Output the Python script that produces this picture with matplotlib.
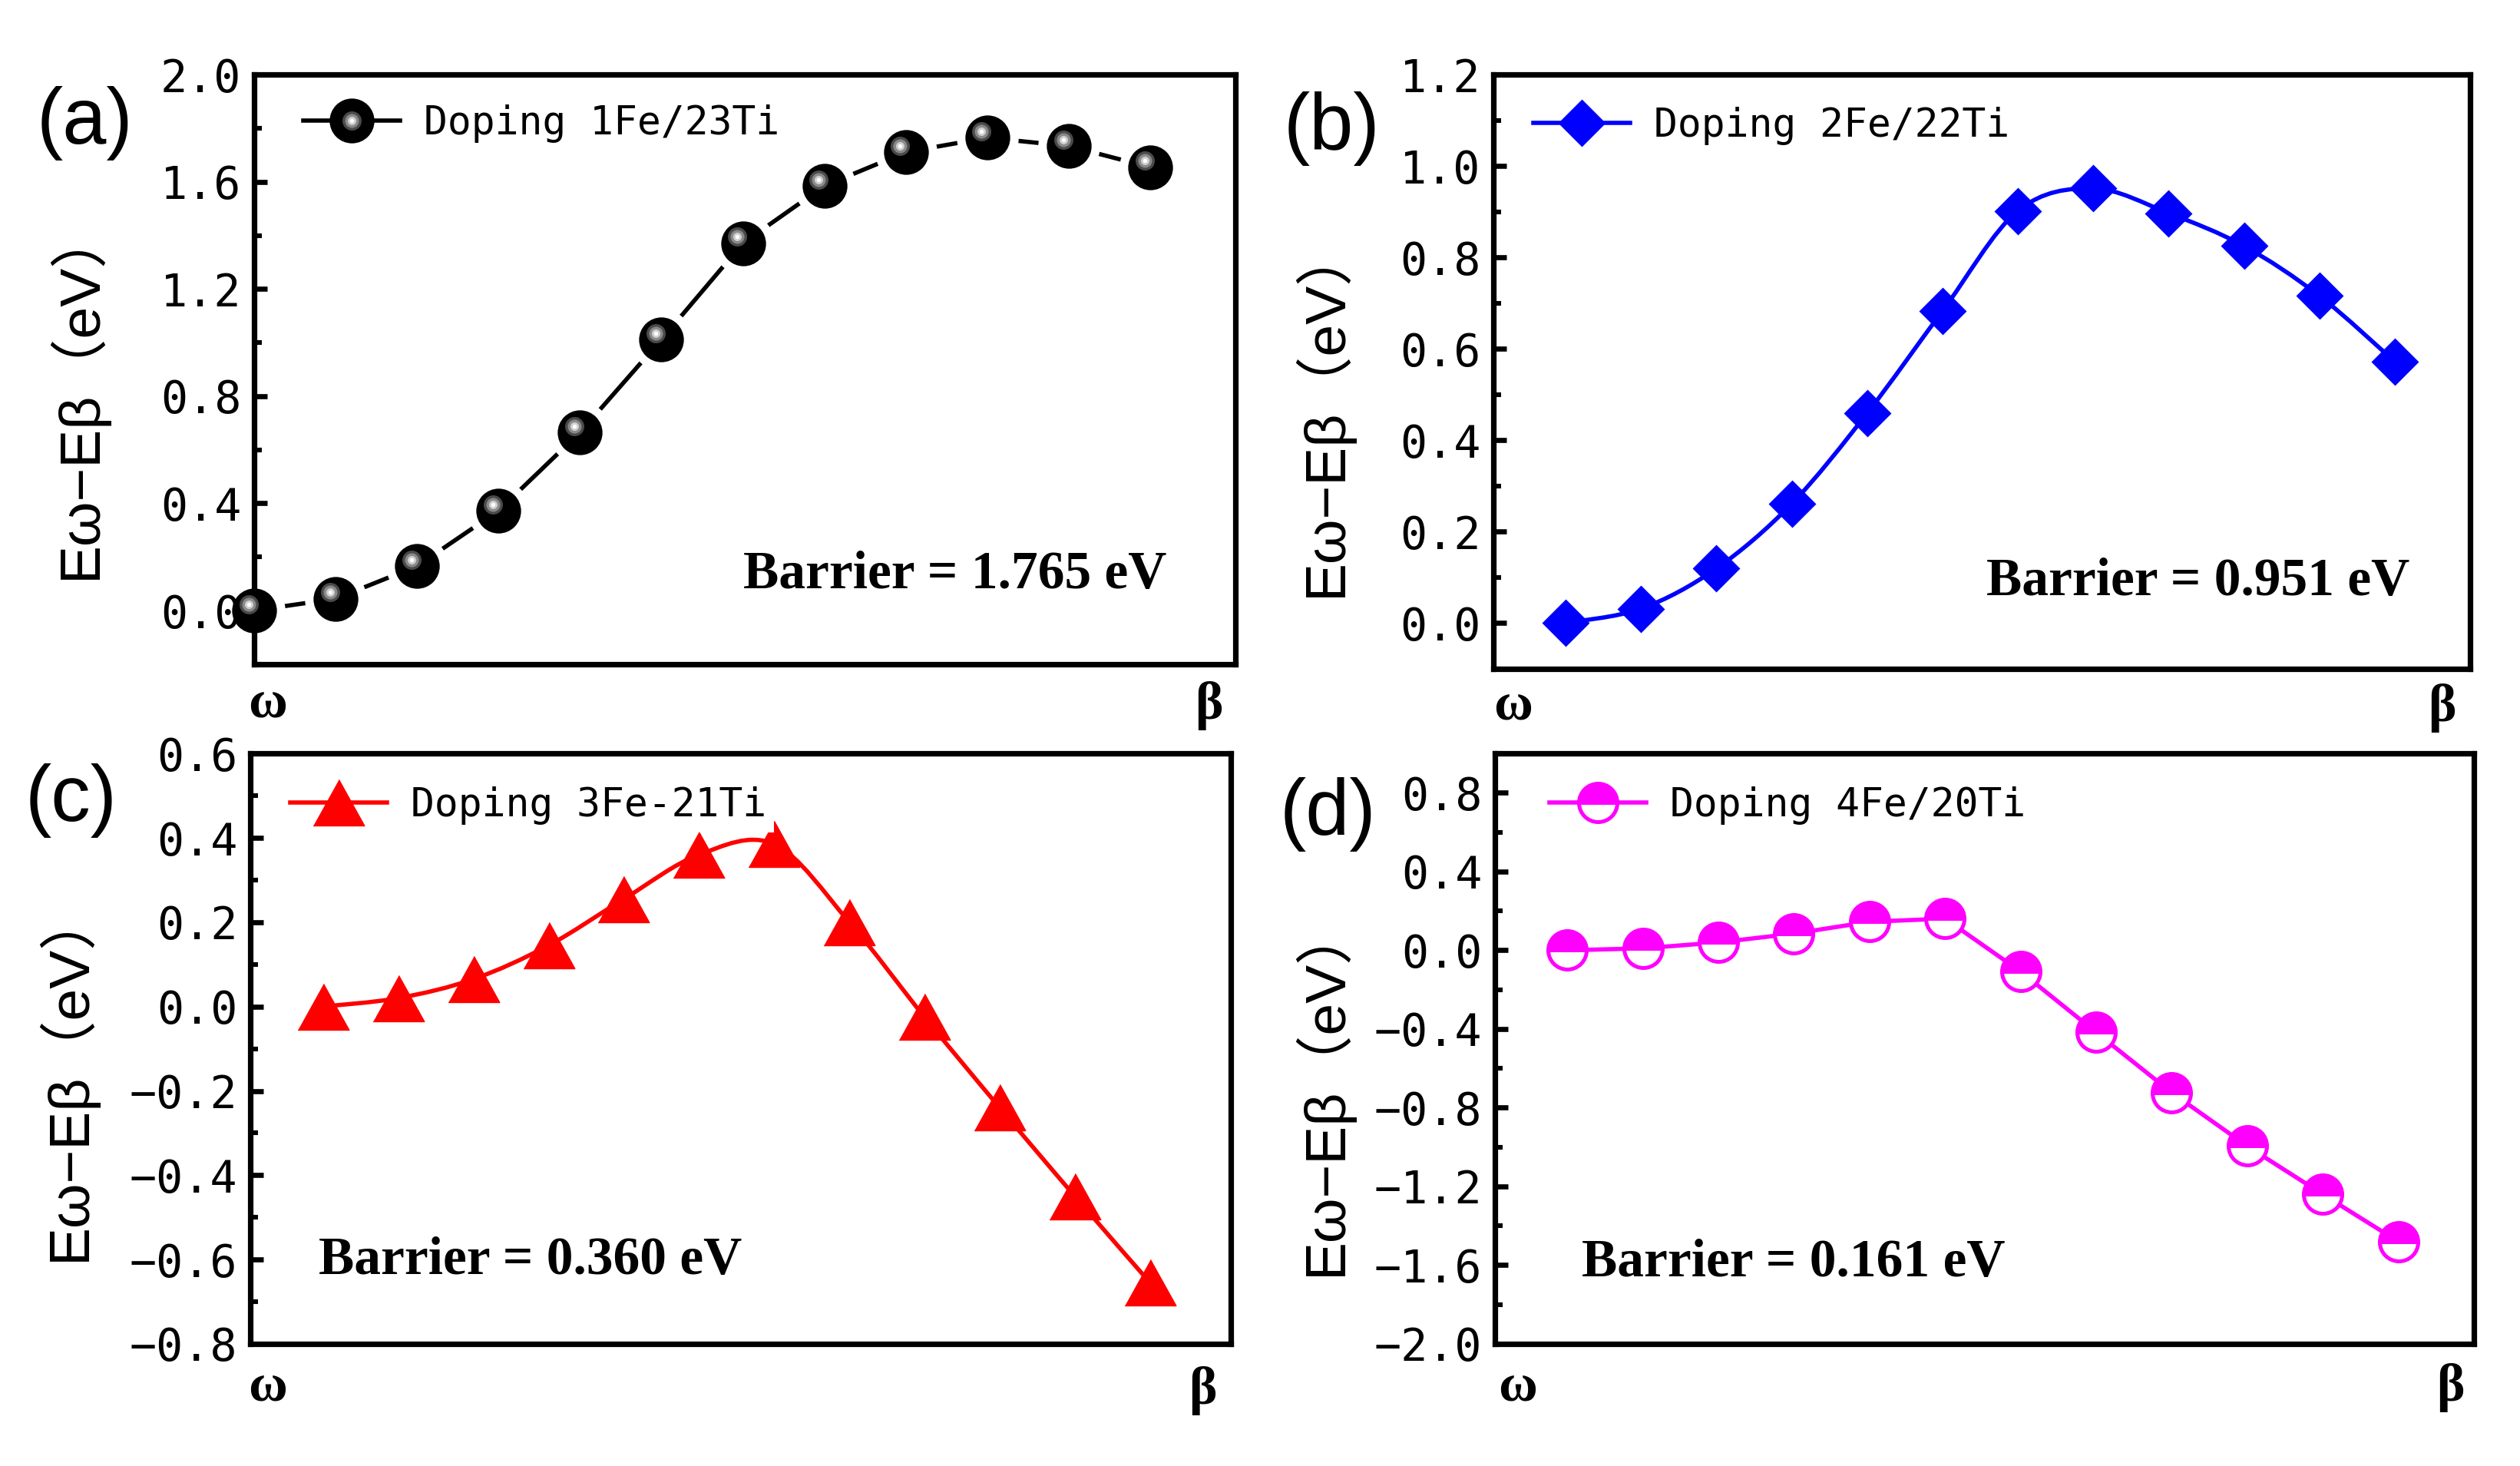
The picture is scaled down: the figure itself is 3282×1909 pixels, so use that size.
import matplotlib
matplotlib.use("Agg")
import matplotlib.pyplot as plt
import matplotlib.transforms as mtransforms
from matplotlib.lines import Line2D
from matplotlib.path import Path
from matplotlib.patches import PathPatch
from matplotlib.legend_handler import HandlerTuple
from matplotlib.ticker import MultipleLocator, FuncFormatter

# image index along the omega -> beta path
x_a = list(range(0, 12))
x_bcd = list(range(1, 13))

# E(omega) - E(beta) in eV
e_a = [0.0, 0.044, 0.166, 0.373, 0.665, 1.012, 1.371, 1.585, 1.711, 1.765, 1.734, 1.655]
e_b = [0.0, 0.031, 0.119, 0.261, 0.459, 0.683, 0.902, 0.951, 0.897, 0.825, 0.716, 0.572]
e_c = [0.0, 0.02, 0.065, 0.145, 0.255, 0.36, 0.385, 0.20, -0.025, -0.24, -0.45, -0.655]
e_d = [0.0, 0.01, 0.04, 0.085, 0.145, 0.161, -0.108, -0.417, -0.723, -0.995, -1.24, -1.48]

labels = ["Doping 1Fe/23Ti", "Doping 2Fe/22Ti", "Doping 3Fe-21Ti", "Doping 4Fe/20Ti"]
barriers = ["Barrier = 1.765 eV", "Barrier = 0.951 eV", "Barrier = 0.360 eV", "Barrier = 0.161 eV"]
tags = ["(a)", "(b)", "(c)", "(d)"]
ylabel = "Eω−Eβ（eV）"

plt.rcParams['font.family'] = ['DejaVu Sans Mono']
SANS = ['Liberation Sans', 'Noto Sans CJK SC', 'DejaVu Sans']
SERIF = ['Liberation Serif', 'DejaVu Serif']
MONO = ['DejaVu Sans Mono']


def fmt(v, pos):
    s = f"{v:.1f}"
    if s == "-0.0":
        s = "0.0"
    return s.replace("-", "\u2212")


def spline_path(xs, ys):
    # smooth connector through the points (cubic bezier segments)
    pts = list(zip(xs, ys))
    n = len(pts)
    verts = [pts[0]]
    codes = [Path.MOVETO]
    for i in range(n - 1):
        p0 = pts[max(i - 1, 0)]
        p1 = pts[i]
        p2 = pts[i + 1]
        p3 = pts[min(i + 2, n - 1)]
        c1 = (p1[0] + (p2[0] - p0[0]) / 6, p1[1] + (p2[1] - p0[1]) / 6)
        c2 = (p2[0] - (p3[0] - p1[0]) / 6, p2[1] - (p3[1] - p1[1]) / 6)
        verts += [c1, c2, p2]
        codes += [Path.CURVE4] * 3
    return Path(verts, codes)


def style_axes(ax, xlim, ylim, major, minor):
    ax.set_xlim(*xlim)
    ax.set_ylim(*ylim)
    ax.yaxis.set_major_locator(MultipleLocator(major))
    ax.yaxis.set_minor_locator(MultipleLocator(minor))
    ax.yaxis.set_major_formatter(FuncFormatter(fmt))
    ax.tick_params(axis='y', which='major', direction='in', length=6, width=2.4,
                   pad=6, labelsize=21)
    ax.tick_params(axis='y', which='minor', direction='in', length=3.5, width=2.2)
    ax.tick_params(axis='x', which='both', bottom=False, labelbottom=False)
    for sp in ax.spines.values():
        sp.set_linewidth(2.6)
        sp.set_zorder(3.5)


def decorate(ax, tag_xy, ylab_xy, bar_xy, bar_ha, omega_xy, beta_xy, text, tag):
    fig.text(tag_xy[0], tag_xy[1], tag, family=SANS, fontsize=37, ha='center', va='center')
    ax.text(ylab_xy[0], ylab_xy[1], ylabel, family=SANS, fontsize=27, rotation=90,
            ha='center', va='center', transform=ax.transAxes)
    ax.text(bar_xy[0], bar_xy[1], text, family=SERIF, fontweight='bold', fontsize=25,
            ha=bar_ha, va='center', transform=ax.transAxes)
    ax.text(omega_xy[0], omega_xy[1], "ω", family=SERIF, fontweight='bold', fontsize=25,
            ha='center', va='center', transform=ax.transAxes)
    ax.text(beta_xy[0], beta_xy[1], "β", family=SERIF, fontweight='bold', fontsize=25,
            ha='center', va='center', transform=ax.transAxes)


def add_legend(ax, handle, label, anchor, handler_map=None):
    leg = ax.legend([handle], [label], loc='center left', bbox_to_anchor=anchor,
                    borderaxespad=0, frameon=True, fancybox=False, framealpha=1,
                    facecolor='white', edgecolor='none', handlelength=2.45,
                    handletextpad=0.6, borderpad=0.2, numpoints=1,
                    prop={'family': MONO, 'size': 18.5}, handler_map=handler_map)
    leg.set_zorder(6)
    return leg


fig = plt.figure(figsize=(16.41, 9.545), dpi=200)
ax_a = fig.add_axes([0.1009, 0.547, 0.3894, 0.402])
ax_b = fig.add_axes([0.5926, 0.544, 0.3876, 0.405])
ax_c = fig.add_axes([0.0993, 0.0833, 0.3890, 0.4027])
ax_d = fig.add_axes([0.5932, 0.0833, 0.3885, 0.4027])

# (a) black spheres, straight line with gaps at the symbols
style_axes(ax_a, (0, 12.05), (-0.2, 2.0), 0.4, 0.2)
ax_a.plot(x_a, e_a, color='black', lw=2.0, zorder=2)
ax_a.plot(x_a, e_a, ls='none', marker='o', ms=29, mfc='white', mec='none', zorder=3)
ax_a.plot(x_a, e_a, ls='none', marker='o', ms=20, mfc='black', mec='black',
          zorder=4, clip_on=False)
hl = ax_a.transData + mtransforms.ScaledTranslation(-2.6 / 72, 3.0 / 72, fig.dpi_scale_trans)
shine = [(9, '#4a4a4a'), (6.5, '#8a8a8a'), (4, '#cfcfcf'), (2, 'white')]
for size, col in shine:
    ax_a.plot(x_a, e_a, ls='none', marker='o', ms=size, mfc=col, mec='none',
              transform=hl, zorder=4.5, clip_on=False)
h_a = tuple([Line2D([], [], color='black', lw=2.0, marker='o', ms=20, mfc='black', mec='black')]
            + [Line2D([], [], ls='none', marker='o', ms=size, mfc=col, mec='none')
               for size, col in shine])
add_legend(ax_a, h_a, labels[0], (0.042, 0.917),
           handler_map={tuple: HandlerTuple(ndivide=1, pad=0)})
decorate(ax_a, (0.0336, 0.916), (-0.181, 0.462), (0.93, 0.151), 'right',
         (0.014, -0.067), (0.973, -0.071), barriers[0], tags[0])

# (b) blue diamonds, smooth line
style_axes(ax_b, (0.04, 13.0), (-0.1, 1.2), 0.2, 0.1)
ax_b.add_patch(PathPatch(spline_path(x_bcd, e_b), fill=False, edgecolor='#0000ff',
                         lw=2.0, zorder=2))
ax_b.plot(x_bcd, e_b, ls='none', marker='D', ms=15, mfc='#0000ff', mec='#0000ff', zorder=4)
h_b = Line2D([], [], color='#0000ff', lw=2.0, marker='D', ms=15, mfc='#0000ff', mec='#0000ff')
add_legend(ax_b, h_b, labels[1], (0.033, 0.914))
decorate(ax_b, (0.5285, 0.912), (-0.175, 0.436), (0.938, 0.146), 'right',
         (0.02, -0.063), (0.971, -0.067), barriers[1], tags[1])

# (c) red triangles, smooth line
tri = [(-1.0, -0.9), (1.0, -0.9), (0.0, 0.9)]
style_axes(ax_c, (0.03, 13.07), (-0.8, 0.6), 0.2, 0.1)
ax_c.add_patch(PathPatch(spline_path(x_bcd, e_c), fill=False, edgecolor='#ff0000',
                         lw=2.0, zorder=2))
ax_c.plot(x_bcd, e_c, ls='none', marker=tri, ms=24, mfc='#ff0000', mec='#ff0000',
          mew=0.5, zorder=4)
h_c = Line2D([], [], color='#ff0000', lw=2.0, marker=tri, ms=24, mfc='#ff0000', mec='#ff0000',
             mew=0.5)
add_legend(ax_c, h_c, labels[2], (0.033, 0.912))
decorate(ax_c, (0.0282, 0.454), (-0.188, 0.457), (0.07, 0.141), 'left',
         (0.018, -0.074), (0.972, -0.08), barriers[2], tags[2])

# (d) magenta half-filled circles, straight line
style_axes(ax_d, (0.04, 13.0), (-2.0, 1.0), 0.4, 0.2)
ax_d.plot(x_bcd, e_d, color='#ff00ff', lw=2.0, marker='o', ms=18, mew=1.8,
          mfc='#ff00ff', mfcalt='white', mec='#ff00ff', fillstyle='top', zorder=4)
h_d = Line2D([], [], color='#ff00ff', lw=2.0, marker='o', ms=18, mew=1.8,
             mfc='#ff00ff', mfcalt='white', mec='#ff00ff', fillstyle='top')
add_legend(ax_d, h_d, labels[3], (0.048, 0.912))
decorate(ax_d, (0.527, 0.4444), (-0.176, 0.432), (0.089, 0.137), 'left',
         (0.023, -0.074), (0.976, -0.074), barriers[3], tags[3])

fig.savefig("out.png", dpi=200, facecolor='white')
plt.close(fig)
